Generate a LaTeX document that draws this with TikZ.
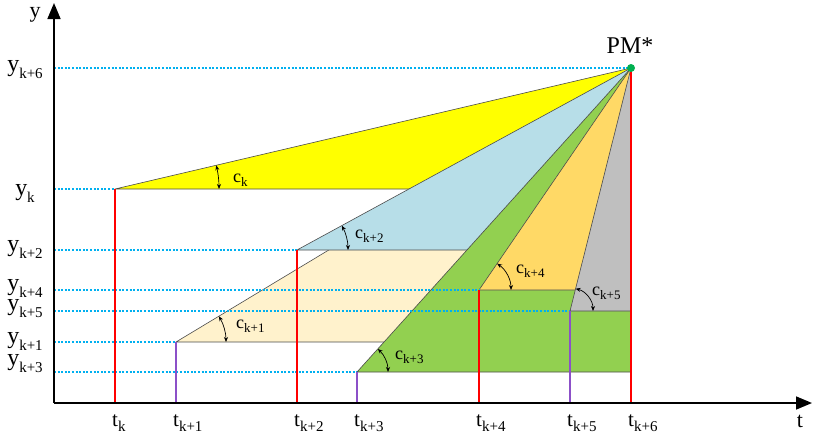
\documentclass[tikz,border=0pt]{standalone}
\usepackage{fontspec}
\setmainfont{Liberation Serif}
\usetikzlibrary{arrows.meta,calc}
\definecolor{cyanl}{RGB}{0,176,240}
\definecolor{redl}{RGB}{255,0,0}
\definecolor{purl}{RGB}{140,80,200}
\definecolor{fyel}{RGB}{255,255,0}
\definecolor{fblu}{RGB}{183,222,232}
\definecolor{fbei}{RGB}{255,242,204}
\definecolor{fgrn}{RGB}{146,208,80}
\definecolor{forg}{RGB}{255,217,102}
\definecolor{fgry}{RGB}{191,191,191}
\definecolor{dotg}{RGB}{0,176,80}
\newcommand\ysym[1]{{\fontsize{24}{24}\selectfont y}\raisebox{-7pt}{\fontsize{15}{15}\selectfont #1}}
\newcommand\tsym[1]{{\fontsize{21}{21}\selectfont t}\raisebox{-5pt}{\fontsize{15}{15}\selectfont #1}}
\newcommand\csym[1]{{\fontsize{18}{18}\selectfont c}\raisebox{-4.5pt}{\fontsize{13}{13}\selectfont #1}}
\newcommand\angmark[3]{\draw[angarr] (#1) ++(0:#2pt) arc[start angle=0,end angle=#3,radius=#2pt];}
\tikzset{
  region/.style={draw=black!70,line width=0.6pt,line join=round},
  guide/.style={cyanl,line width=1.2pt,dash pattern=on 2pt off 1.6pt},
  tred/.style={redl,line width=1.6pt},
  tpur/.style={purl,line width=1.2pt},
  axis/.style={black,line width=1.6pt,-{Triangle[width=13pt,length=16pt]}},
  angarr/.style={black,line width=0.7pt,{Stealth[length=5pt,width=4pt]}-{Stealth[length=5pt,width=4pt]}},
  ylabel/.style={inner sep=0pt,anchor=base},
  tlabel/.style={inner sep=0pt,anchor=base west},
}
\begin{document}
\begin{tikzpicture}[x=1pt,y=-1pt]
\useasboundingbox (0,0) rectangle (813,434);
% points
\coordinate (O) at (54,403);
\coordinate (Ytop) at (54,3);
\coordinate (Tend) at (812,403);
\coordinate (PM) at (631,68);
\coordinate (P0) at (115,189);
\coordinate (P1) at (176,342);
\coordinate (P2) at (297,250);
\coordinate (P3) at (357,372);
\coordinate (P4) at (479,290);
\coordinate (P5) at (570,311);
\coordinate (B0) at (115,403);
\coordinate (B1) at (176,403);
\coordinate (B2) at (297,403);
\coordinate (B3) at (357,403);
\coordinate (B4) at (479,403);
\coordinate (B5) at (570,403);
\coordinate (B6) at (631,403);
\coordinate (L6) at (54,68);
\coordinate (L0) at (54,189);
\coordinate (L1) at (54,342);
\coordinate (L2) at (54,250);
\coordinate (L3) at (54,372);
\coordinate (L4) at (54,290);
\coordinate (L5) at (54,311);
% regions
\draw[region,fill=fyel] (P0) -- (PM) -- (631,189) -- cycle;
\draw[region,fill=fbei] (P1) -- (PM) -- (631,342) -- cycle;
\draw[region,fill=fblu] (P2) -- (PM) -- (631,250) -- cycle;
\draw[region,fill=fgrn] (P3) -- (PM) -- (631,372) -- cycle;
\draw[region,fill=forg] (P4) -- (PM) -- (631,290) -- cycle;
\draw[region,fill=fgry] (P5) -- (PM) -- (631,311) -- cycle;
% guides
\draw[guide] (L6) -- (PM);
\draw[guide] (L0) -- (P0);
\draw[guide] (L2) -- (P2);
\draw[guide] (L4) -- (P4);
\draw[guide] (L5) -- (P5);
\draw[guide] (L1) -- (P1);
\draw[guide] (L3) -- (P3);
% verticals
\draw[tred] (P0) -- (B0);
\draw[tred] (P2) -- (B2);
\draw[tred] (P4) -- (B4);
\draw[tred] (PM) -- (B6);
\draw[tpur] (P1) -- (B1);
\draw[tpur] (P3) -- (B3);
\draw[tpur] (P5) -- (B5);
% axes
\draw[axis] (O) -- (Ytop);
\draw[axis] (O) -- (Tend);
% angle marks
\angmark{P0}{104}{13.2}
\angmark{P2}{51}{28.6}
\angmark{P1}{50}{31.06}
\angmark{P3}{31}{47.97}
\angmark{P4}{32}{55.6}
\angmark{P5}{23}{75.9}
\node[tlabel] (ck) at (233,182) {\csym{k}};
\node[tlabel] (ck2) at (355,238) {\csym{k+2}};
\node[tlabel] (ck1) at (236,328) {\csym{k+1}};
\node[tlabel] (ck3) at (395,359) {\csym{k+3}};
\node[tlabel] (ck4) at (516,273) {\csym{k+4}};
\node[tlabel] (ck5) at (592,295) {\csym{k+5}};
% PM point
\fill[dotg] (PM) circle (4pt);
\node[inner sep=0pt,anchor=base] (pmlab) at (630,53) {\fontsize{24}{24}\selectfont PM*};
% axis labels
\node[ylabel] (ylab) at (35,17) {\fontsize{22}{22}\selectfont y};
\node[ylabel] (tlab) at (800,427) {\fontsize{22}{22}\selectfont t};
% y labels
\node[ylabel] (y6) at (25,71) {\ysym{k+6}};
\node[ylabel] (y0) at (25,195) {\ysym{k}};
\node[ylabel] (y2) at (25,251) {\ysym{k+2}};
\node[ylabel] (y4) at (25,290) {\ysym{k+4}};
\node[ylabel] (y5) at (25,310) {\ysym{k+5}};
\node[ylabel] (y1) at (25,343) {\ysym{k+1}};
\node[ylabel] (y3) at (25,365) {\ysym{k+3}};
% t labels
\node[tlabel] (t0) at (112,426) {\tsym{k}};
\node[tlabel] (t1) at (173,426) {\tsym{k+1}};
\node[tlabel] (t2) at (294,426) {\tsym{k+2}};
\node[tlabel] (t3) at (354,426) {\tsym{k+3}};
\node[tlabel] (t4) at (476,426) {\tsym{k+4}};
\node[tlabel] (t5) at (567,426) {\tsym{k+5}};
\node[tlabel] (t6) at (628,426) {\tsym{k+6}};
\end{tikzpicture}
\end{document}
